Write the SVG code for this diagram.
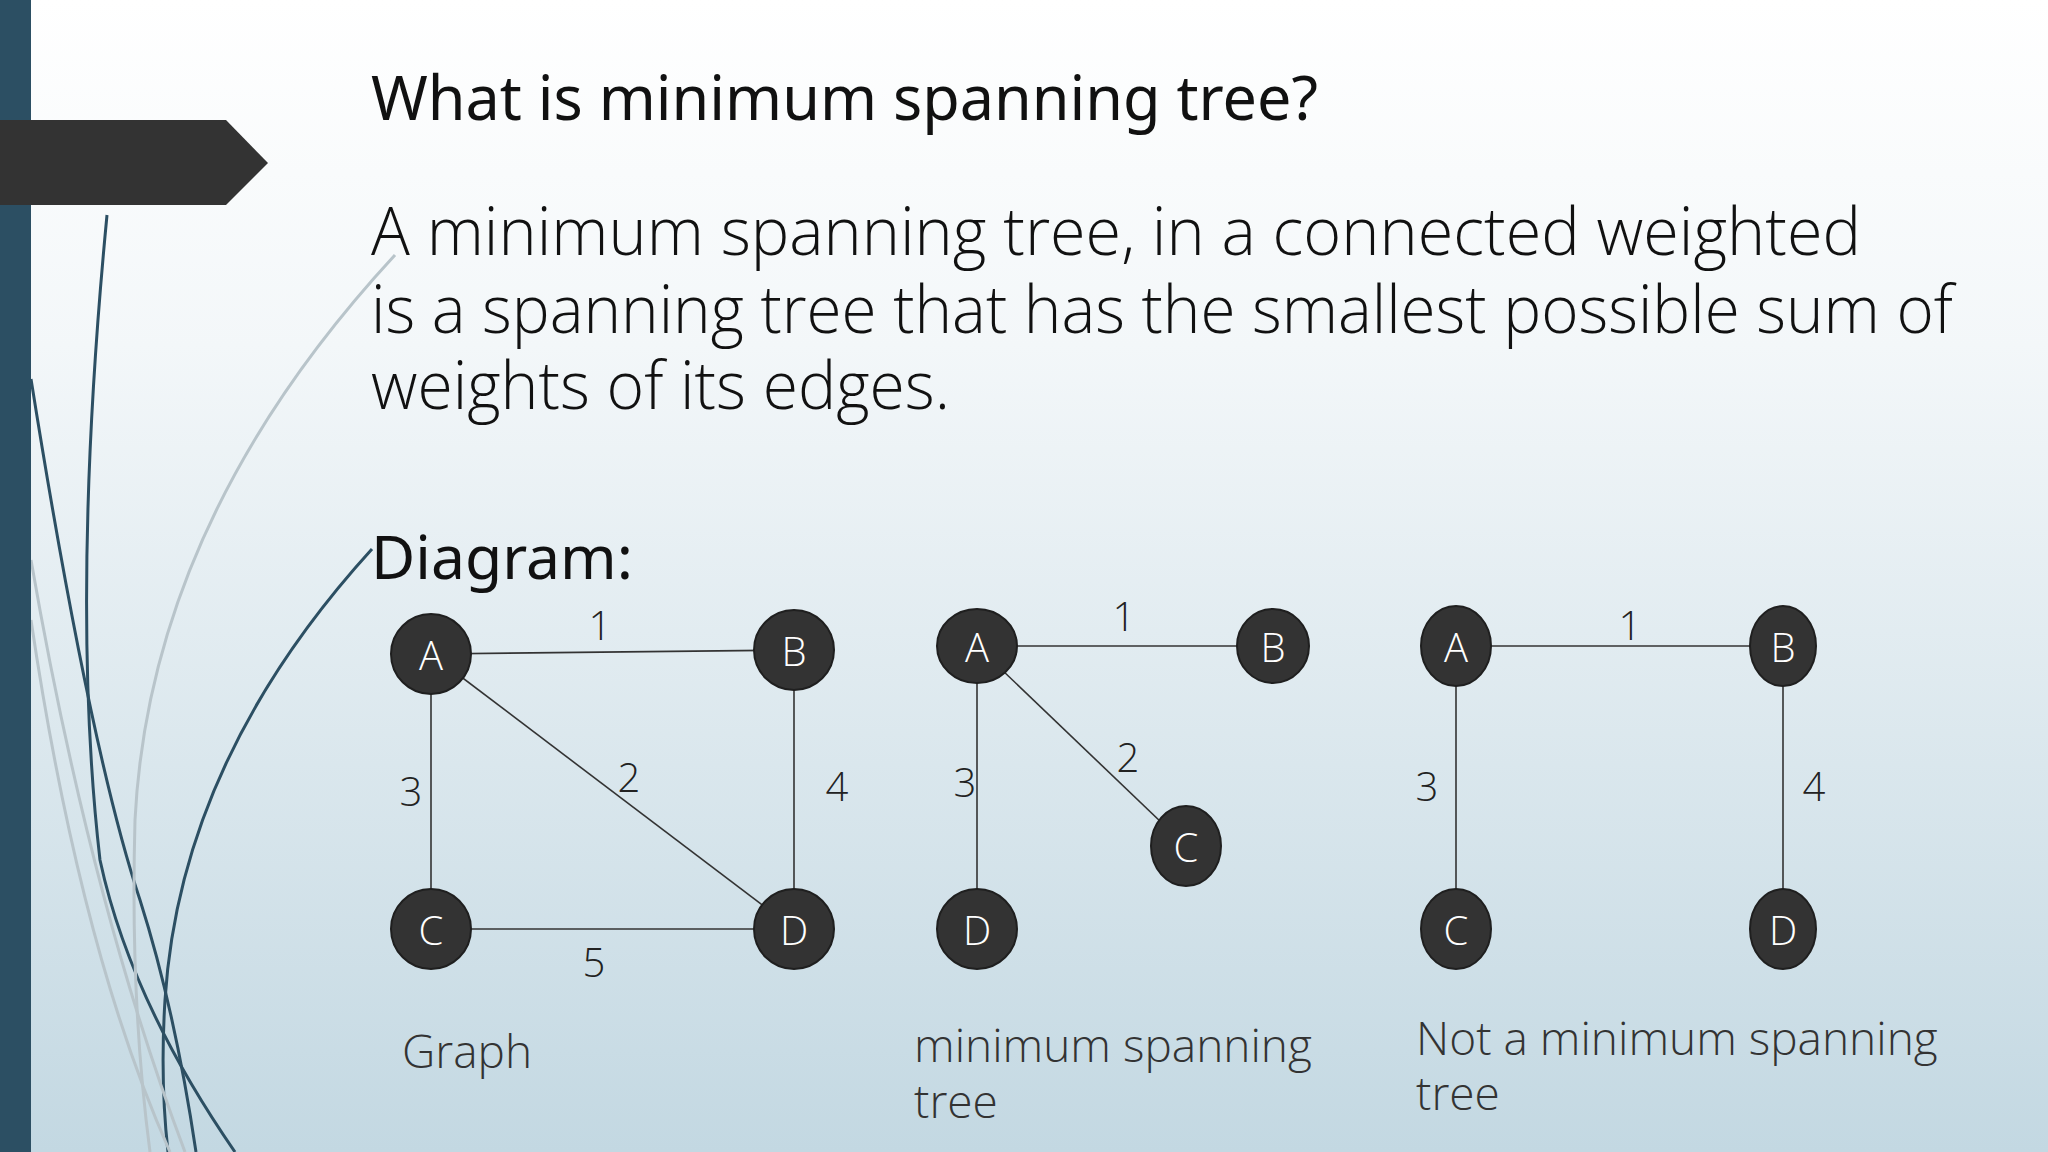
<svg xmlns="http://www.w3.org/2000/svg" width="2048" height="1152" viewBox="0 0 2048 1152">
<defs>
<linearGradient id="bg" x1="0" y1="0" x2="0" y2="1"><stop offset="0" stop-color="#ffffff"/><stop offset="0.3" stop-color="#f3f7f9"/><stop offset="1" stop-color="#c3d8e2"/></linearGradient>
<style>
.n{fill:#333333;stroke:#1f1f1f;stroke-width:2}
.nt{font-family:"Open Sans","Noto Sans",sans-serif;font-weight:300;font-size:40px;fill:#ffffff;text-anchor:middle;dominant-baseline:central}
.e{stroke:#333;stroke-width:1.6;fill:none}
.w{font-family:"Open Sans","Noto Sans",sans-serif;font-weight:300;font-size:40px;fill:#222;text-anchor:middle;dominant-baseline:central}
.cap{font-family:"Open Sans","Noto Sans",sans-serif;font-weight:300;font-size:46px;fill:#333}
.body{font-family:"Open Sans","Noto Sans",sans-serif;font-weight:300;font-size:66px;fill:#111}
.deco{fill:none;stroke-width:3}
</style>
</defs>
<rect width="2048" height="1152" fill="url(#bg)"/>
<g id="decor">
<path class="deco" stroke="#2c4f63" d="M107 215 Q70 600 100 860 Q130 1000 235 1152"/>
<path class="deco" stroke="#2c4f63" d="M31 379 Q90 750 140 900 Q175 1010 196 1152"/>
<path class="deco" stroke="#2c4f63" d="M372 549 Q180 760 165 1000 Q160 1080 168 1152"/>
<path class="deco" stroke="#b8c4ca" stroke-width="2" d="M395 255 Q150 520 135 820 Q130 1000 150 1152"/>
<path class="deco" stroke="#b8c4ca" stroke-width="2" d="M31 560 Q90 900 185 1152"/>
<path class="deco" stroke="#b8c4ca" stroke-width="6" d="M31 620 Q80 950 170 1152"/>
</g>
<rect x="0" y="0" width="31" height="1152" fill="#2c4f63"/>
<polygon points="0,120 226,120 268,163 226,205 0,205" fill="#333333"/>
<text x="371" y="120" font-family="Noto Sans,sans-serif" font-size="62" fill="#111" textLength="947" lengthAdjust="spacingAndGlyphs">What is minimum spanning tree?</text>
<text class="body" x="371" y="255" textLength="1490" lengthAdjust="spacingAndGlyphs">A minimum spanning tree, in a connected weighted</text>
<text class="body" x="371" y="333" textLength="1582" lengthAdjust="spacingAndGlyphs">is a spanning tree that has the smallest possible sum of</text>
<text class="body" x="371" y="409" textLength="579" lengthAdjust="spacingAndGlyphs">weights of its edges.</text>
<text x="371" y="579" font-family="Noto Sans,sans-serif" font-size="60" fill="#111" textLength="262" lengthAdjust="spacingAndGlyphs">Diagram:</text>
<g id="connectors">
<line class="e" x1="431" y1="654" x2="794" y2="650"/>
<line class="e" x1="431" y1="654" x2="431" y2="929"/>
<line class="e" x1="431" y1="654" x2="794" y2="929"/>
<line class="e" x1="794" y1="650" x2="794" y2="929"/>
<line class="e" x1="431" y1="929" x2="794" y2="929"/>
<line class="e" x1="977" y1="646" x2="1273" y2="646"/>
<line class="e" x1="977" y1="646" x2="977" y2="929"/>
<line class="e" x1="977" y1="646" x2="1186" y2="846"/>
<line class="e" x1="1456" y1="646" x2="1783" y2="646"/>
<line class="e" x1="1456" y1="646" x2="1456" y2="929"/>
<line class="e" x1="1783" y1="646" x2="1783" y2="929"/>
</g>
<g id="weights">
<text class="w" x="600" y="624">1</text><text class="w" x="411" y="790">3</text><text class="w" x="629" y="776">2</text><text class="w" x="837" y="785">4</text><text class="w" x="594" y="961">5</text>
<text class="w" x="1124" y="615">1</text><text class="w" x="965" y="781">3</text><text class="w" x="1128" y="756">2</text>
<text class="w" x="1630" y="624">1</text><text class="w" x="1427" y="785">3</text><text class="w" x="1814" y="785">4</text>
</g>
<g id="g1A"><ellipse class="n" cx="431" cy="654" rx="40" ry="40"/><text class="nt" x="431" y="654">A</text></g>
<g id="g1B"><ellipse class="n" cx="794" cy="650" rx="40" ry="40"/><text class="nt" x="794" y="650">B</text></g>
<g id="g1C"><ellipse class="n" cx="431" cy="929" rx="40" ry="40"/><text class="nt" x="431" y="929">C</text></g>
<g id="g1D"><ellipse class="n" cx="794" cy="929" rx="40" ry="40"/><text class="nt" x="794" y="929">D</text></g>
<g id="g2A"><ellipse class="n" cx="977" cy="646" rx="40" ry="37"/><text class="nt" x="977" y="646">A</text></g>
<g id="g2B"><ellipse class="n" cx="1273" cy="646" rx="36" ry="37"/><text class="nt" x="1273" y="646">B</text></g>
<g id="g2C"><ellipse class="n" cx="1186" cy="846" rx="35" ry="40"/><text class="nt" x="1186" y="846">C</text></g>
<g id="g2D"><ellipse class="n" cx="977" cy="929" rx="40" ry="40"/><text class="nt" x="977" y="929">D</text></g>
<g id="g3A"><ellipse class="n" cx="1456" cy="646" rx="35" ry="40"/><text class="nt" x="1456" y="646">A</text></g>
<g id="g3B"><ellipse class="n" cx="1783" cy="646" rx="33" ry="40"/><text class="nt" x="1783" y="646">B</text></g>
<g id="g3C"><ellipse class="n" cx="1456" cy="929" rx="35" ry="40"/><text class="nt" x="1456" y="929">C</text></g>
<g id="g3D"><ellipse class="n" cx="1783" cy="929" rx="33" ry="40"/><text class="nt" x="1783" y="929">D</text></g>
<text class="cap" x="402" y="1068">Graph</text>
<text class="cap" x="914" y="1062">minimum spanning</text>
<text class="cap" x="914" y="1118">tree</text>
<text class="cap" x="1416" y="1055">Not a minimum spanning</text>
<text class="cap" x="1416" y="1110">tree</text>
</svg>
